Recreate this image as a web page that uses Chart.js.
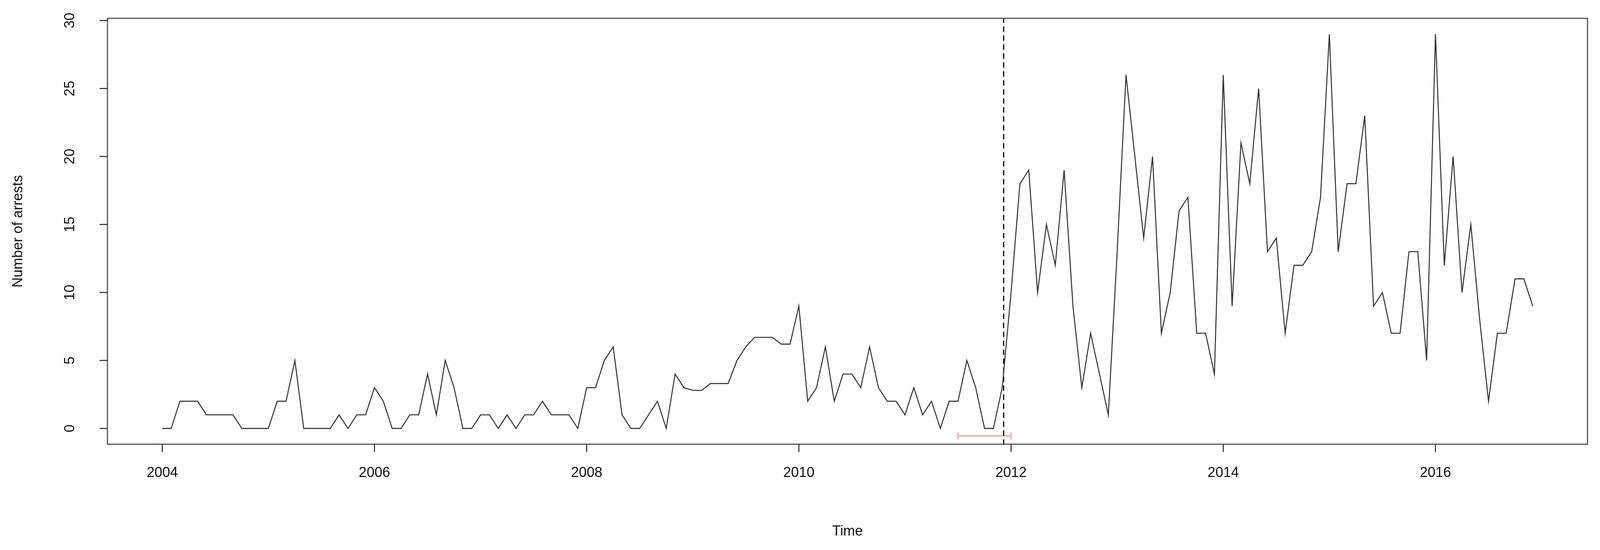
<!DOCTYPE html>
<html>
<head>
<meta charset="utf-8">
<script src="https://cdn.jsdelivr.net/npm/chart.js@4/dist/chart.umd.min.js"></script>
<style>
  html, body { margin: 0; padding: 0; background: #fff; }
  #wrap { width: 4103px; height: 1409px; }
</style>
</head>
<body>
<div id="wrap"><canvas id="chart"></canvas></div>
<script>
// monthly arrests, Jan 2004 .. Dec 2016
const startYear = 2004;
const arrests2004 = [0, 0, 2, 2, 2, 1, 1, 1, 1, 0, 0, 0];
const arrests2005 = [0, 2, 2, 5, 0, 0, 0, 0, 1, 0, 1, 1];
const arrests2006 = [3, 2, 0, 0, 1, 1, 4, 1, 5, 3, 0, 0];
const arrests2007 = [1, 1, 0, 1, 0, 1, 1, 2, 1, 1, 1, 0];
const arrests2008 = [3, 3, 5, 6, 1, 0, 0, 1, 2, 0, 4, 3];
const arrests2009 = [2.8, 2.8, 3.3, 3.3, 3.3, 5, 6, 6.7, 6.7, 6.7, 6.2, 6.2];
const arrests2010 = [9, 2, 3, 6, 2, 4, 4, 3, 6, 3, 2, 2];
const arrests2011 = [1, 3, 1, 2, 0, 2, 2, 5, 3, 0, 0, 3];
const arrests2012 = [10, 18, 19, 10, 15, 12, 19, 9, 3, 7, 4, 1];
const arrests2013 = [13, 26, 20, 14, 20, 7, 10, 16, 17, 7, 7, 4];
const arrests2014 = [26, 9, 21, 18, 25, 13, 14, 7, 12, 12, 13, 17];
const arrests2015 = [29, 13, 18, 18, 23, 9, 10, 7, 7, 13, 13, 5];
const arrests2016 = [29, 12, 20, 10, 15, 8, 2, 7, 7, 11, 11, 9];

const xTicks = [2004, 2006, 2008, 2010, 2012, 2014, 2016];
const yTicks = [0, 5, 10, 15, 20, 25, 30];
const breakTime = 2011.93;          // dashed vertical line
const intervalTimes = [2011.5, 2012.0]; // red bracket at the bottom
const intervalLevel = -0.55;

const allYears = [arrests2004, arrests2005, arrests2006, arrests2007, arrests2008, arrests2009,
  arrests2010, arrests2011, arrests2012, arrests2013, arrests2014, arrests2015, arrests2016];
const series = [];
allYears.forEach((yr, i) => {
    yr.forEach((v, m) => series.push({x: startYear + i + m / 12, y: v}));
});

const FONT = '36px "Liberation Sans", Arial, sans-serif';

const rAxes = {
    id: 'rAxes',
    afterDraw(chart) {
        const ctx = chart.ctx;
        const a = chart.chartArea;
        const xs = chart.scales.x, ys = chart.scales.y;
        ctx.save();
        // box
        ctx.strokeStyle = '#555';
        ctx.lineWidth = 3;
        ctx.strokeRect(a.left, a.top, a.right - a.left, a.bottom - a.top);
        ctx.strokeStyle = '#222';
        ctx.lineWidth = 2.5;
        ctx.fillStyle = '#111';
        ctx.font = FONT;
        // x axis ticks
        ctx.textAlign = 'center';
        ctx.textBaseline = 'middle';
        xTicks.forEach(t => {
            const px = xs.getPixelForValue(t);
            ctx.beginPath();
            ctx.moveTo(px, a.bottom);
            ctx.lineTo(px, a.bottom + 20);
            ctx.stroke();
            ctx.fillText(String(t), px, 1212);
        });
        ctx.fillText('Time', (a.left + a.right) / 2, 1362);
        // y axis ticks, rotated labels
        yTicks.forEach(t => {
            const py = ys.getPixelForValue(t);
            ctx.beginPath();
            ctx.moveTo(a.left, py);
            ctx.lineTo(a.left - 20, py);
            ctx.stroke();
            ctx.save();
            ctx.translate(180, py);
            ctx.rotate(-Math.PI / 2);
            ctx.fillText(String(t), 0, 0);
            ctx.restore();
        });
        ctx.save();
        ctx.translate(47, (a.top + a.bottom) / 2);
        ctx.rotate(-Math.PI / 2);
        ctx.fillText('Number of arrests', 0, 0);
        ctx.restore();
        ctx.restore();
    }
};

new Chart(document.getElementById('chart'), {
    type: 'line',
    data: {
        datasets: [
            {
                label: 'Arrests',
                data: series,
                borderColor: '#333',
                borderWidth: 2.6,
                pointRadius: 0,
                tension: 0,
                fill: false
            },
            {
                label: 'Break',
                data: [{x: breakTime, y: -1.2}, {x: breakTime, y: 30.2}],
                borderColor: '#000',
                borderWidth: 3,
                borderDash: [14, 9],
                pointRadius: 0
            },
            {
                label: 'Interval',
                data: intervalTimes.map(t => ({x: t, y: intervalLevel})),
                borderColor: '#f09aa4',
                borderWidth: 3,
                pointStyle: 'line',
                rotation: 90,
                pointRadius: 9,
                pointBorderColor: '#f09aa4',
                pointBorderWidth: 3
            }
        ]
    },
    options: {
        responsive: true,
        maintainAspectRatio: false,
        animation: false,
        layout: {padding: {top: 47, right: 39, left: 0, bottom: 0}},
        plugins: {legend: {display: false}, tooltip: {enabled: false}},
        scales: {
            x: {
                type: 'linear',
                min: 2003.483,
                max: 2017.433,
                grid: {display: false},
                border: {display: false},
                ticks: {display: false},
                afterFit: s => { s.height = 271; }
            },
            y: {
                min: -1.16,
                max: 30.16,
                grid: {display: false},
                border: {display: false},
                ticks: {display: false},
                afterFit: s => { s.width = 275; }
            }
        }
    },
    plugins: [rAxes]
});
</script>
</body>
</html>
